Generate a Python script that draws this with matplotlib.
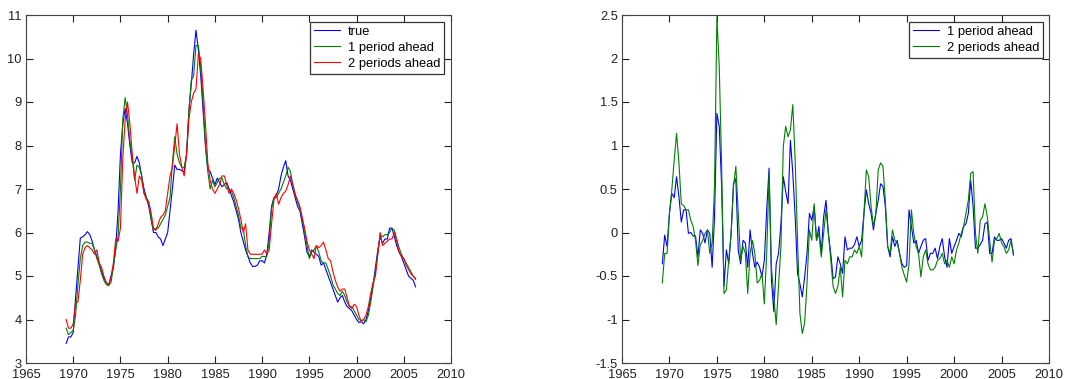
import numpy as np
import matplotlib
matplotlib.use("Agg")
import matplotlib.pyplot as plt
from matplotlib.ticker import FormatStrFormatter

plt.rcParams['font.family'] = ['Liberation Sans', 'DejaVu Sans']
plt.rcParams['font.size'] = 9.3

# quarterly values, first point 1969 Q2
true_rate = [
    3.45, 3.6, 3.6,
    3.7, 4.5, 5.2, 5.87,
    5.9, 5.95, 6.02, 5.95,
    5.8, 5.6, 5.45, 5.3,
    5.1, 4.95, 4.85, 4.78,
    5.0, 5.2, 5.65, 6.5,
    7.8, 8.5, 8.85, 8.5,
    8.0, 7.6, 7.6, 7.75,
    7.6, 7.3, 7.0, 6.8,
    6.6, 6.3, 6.0, 6.0,
    5.9, 5.85, 5.7, 5.85,
    6.0, 6.5, 7.0, 7.55,
    7.45, 7.45, 7.42, 7.4,
    7.8, 8.8, 9.4, 10.1,
    10.65, 10.2, 9.6, 8.8,
    8.0, 7.45, 7.4, 7.25,
    7.1, 7.25, 7.15, 7.05,
    7.1, 7.15, 7.0, 6.85,
    6.7, 6.5, 6.3, 6.0,
    5.8, 5.6, 5.45, 5.3,
    5.22, 5.22, 5.25, 5.35,
    5.35, 5.3, 5.5, 6.0,
    6.6, 6.8, 6.85, 7.0,
    7.3, 7.5, 7.65, 7.3,
    7.2, 7.0, 6.8, 6.6,
    6.5, 6.2, 5.9, 5.55,
    5.45, 5.6, 5.55, 5.5,
    5.45, 5.25, 5.3, 5.15,
    5.0, 4.85, 4.7, 4.55,
    4.4, 4.5, 4.55, 4.4,
    4.3, 4.25, 4.2, 4.1,
    4.0, 3.93, 3.95, 3.9,
    4.0, 4.2, 4.5, 4.8,
    5.2, 5.6, 5.9, 5.75,
    5.85, 5.85, 6.1, 6.1,
    5.9, 5.7, 5.55, 5.45,
    5.3, 5.15, 5.0, 4.95,
    4.9, 4.75,
]

ahead1 = [
    3.8, 3.65, 3.7,
    3.75, 4.1, 4.8, 5.4,
    5.7, 5.78, 5.78, 5.75,
    5.75, 5.6, 5.4, 5.25,
    5.05, 4.9, 4.8, 4.78,
    4.85, 5.2, 5.6, 5.9,
    7.0, 8.6, 9.1, 8.7,
    8.1, 7.7, 7.2, 7.55,
    7.5, 7.3, 6.9, 6.8,
    6.7, 6.3, 6.05, 6.1,
    6.1, 6.2, 6.3, 6.4,
    6.6, 6.8, 7.6, 8.2,
    7.8, 7.6, 7.5, 7.5,
    7.8, 8.8, 9.5, 9.6,
    10.3, 10.3, 9.8, 9.0,
    8.0, 7.4, 7.0, 7.2,
    7.05, 7.15, 7.25, 7.25,
    7.1, 7.0, 7.0, 6.95,
    6.8, 6.6, 6.4, 6.1,
    6.1, 5.7, 5.45, 5.4,
    5.4, 5.4, 5.4, 5.4,
    5.45, 5.45, 5.45, 5.8,
    6.55, 6.8, 6.8, 6.9,
    7.0, 7.15, 7.3, 7.5,
    7.4, 7.1, 6.9, 6.7,
    6.55, 6.3, 6.0, 5.7,
    5.4, 5.55, 5.6, 5.7,
    5.55, 5.35, 5.3, 5.3,
    5.15, 5.0, 4.8, 4.7,
    4.6, 4.55, 4.65, 4.55,
    4.4, 4.3, 4.3, 4.2,
    4.1, 4.0, 3.97, 4.0,
    3.95, 4.1, 4.4, 4.75,
    5.1, 5.5, 5.95, 5.9,
    5.95, 5.95, 6.0, 6.1,
    6.05, 5.85, 5.65, 5.5,
    5.4, 5.3, 5.2, 5.1,
    5.0, 4.95,
]

ahead2 = [
    4.0, 3.8, 3.8,
    3.9, 4.4, 4.4, 4.9,
    5.5, 5.65, 5.7, 5.65,
    5.6, 5.5, 5.6, 5.3,
    5.2, 5.0, 4.85, 4.8,
    4.95, 5.3, 5.85, 5.8,
    6.1, 7.7, 8.6, 9.0,
    8.5, 7.8, 7.3, 6.9,
    7.3, 7.2, 6.9, 6.75,
    6.7, 6.45, 6.1, 6.05,
    6.2, 6.35, 6.4, 6.5,
    6.9, 7.3, 7.5, 8.0,
    8.5, 7.8, 7.5, 7.3,
    7.8, 8.6, 9.0, 9.2,
    9.3, 10.1, 10.0, 9.3,
    8.5, 7.6, 7.2, 7.0,
    6.9, 7.0, 7.1, 7.3,
    7.3, 7.1, 6.9, 7.0,
    6.9, 6.75, 6.55, 6.3,
    6.0, 6.2, 5.6, 5.5,
    5.5, 5.5, 5.5, 5.5,
    5.5, 5.6, 5.5, 5.6,
    6.2, 6.75, 6.9, 6.65,
    6.8, 6.9, 6.95, 7.1,
    7.3, 7.1, 6.85, 6.75,
    6.6, 6.35, 6.1, 5.8,
    5.6, 5.5, 5.4, 5.7,
    5.65, 5.7, 5.78, 5.6,
    5.4, 5.35, 5.1, 4.9,
    4.75, 4.65, 4.7, 4.7,
    4.5, 4.3, 4.25, 4.35,
    4.3, 4.1, 3.95, 4.0,
    4.1, 4.3, 4.6, 4.85,
    5.0, 5.5, 6.0, 5.7,
    5.75, 5.8, 5.85, 5.85,
    6.0, 5.8, 5.55, 5.45,
    5.4, 5.25, 5.15, 5.05,
    5.0, 4.92,
]

# forecast errors
err1 = [
    -0.36, -0.03, -0.16,
    0.22, 0.45, 0.4, 0.64,
    0.41, 0.12, 0.26, 0.26,
    -0.01, 0.0, -0.04, -0.04,
    -0.28, 0.03, -0.01, -0.12,
    0.03, -0.01, -0.4, 0.18,
    1.37, 1.22, 0.53, -0.62,
    -0.2, -0.36, -0.01, 0.56,
    0.62, -0.2, -0.36, -0.09,
    -0.12, -0.4, 0.03, -0.24,
    -0.4, -0.34, -0.4, -0.51,
    -0.32, 0.26, 0.74, -0.55,
    -0.91, -0.36, -0.24, 0.1,
    0.64, 0.47, 0.33, 1.06,
    0.68, 0.18, -0.47, -0.59,
    -0.74, -0.51, -0.24, 0.22,
    0.14, 0.3, -0.09, 0.07,
    -0.24, 0.18, 0.37, -0.01,
    -0.24, -0.53, -0.51, -0.28,
    -0.36, -0.47, -0.05, -0.2,
    -0.18, -0.18, -0.14, -0.05,
    -0.16, -0.09, 0.22, 0.49,
    0.33, 0.22, 0.03, 0.22,
    0.37, 0.56, 0.53, 0.3,
    -0.16, -0.28, -0.05, -0.16,
    -0.09, -0.24, -0.36, -0.4,
    -0.38, 0.26, 0.07, -0.12,
    -0.09, -0.24, -0.16, -0.09,
    -0.07, -0.32, -0.24, -0.24,
    -0.18, -0.3, -0.16, -0.07,
    -0.28, -0.4, -0.07, -0.24,
    -0.16, -0.09, -0.01, -0.05,
    0.07, 0.1, 0.22, 0.6,
    0.3, -0.18, -0.18, -0.14,
    -0.09, 0.1, 0.12, -0.24,
    -0.24, -0.05, -0.09, -0.09,
    -0.07, -0.12, -0.18, -0.09,
    -0.07, -0.26,
]

err2 = [
    -0.58, -0.24, -0.24,
    0.22, 0.49, 0.83, 1.14,
    0.8, 0.33, 0.31, 0.26,
    0.26, 0.14, 0.07, -0.09,
    -0.38, -0.14, -0.09, -0.01,
    0.03, -0.24, -0.12, 0.53,
    2.48, 1.9, 0.76, -0.7,
    -0.66, -0.32, -0.01, 0.53,
    0.76, 0.22, -0.32, -0.16,
    -0.24, -0.7, -0.24, -0.09,
    -0.24, -0.58, -0.55, -0.47,
    -0.82, -0.24, 0.68, -0.4,
    -0.74, -1.06, -0.62, -0.16,
    0.99, 1.22, 1.1, 1.18,
    1.47, 0.83, -0.09, -0.93,
    -1.16, -1.04, -0.58, 0.03,
    -0.09, 0.33, -0.09, -0.01,
    -0.28, -0.01, 0.26, -0.01,
    -0.32, -0.62, -0.7, -0.62,
    -0.4, -0.74, -0.32, -0.36,
    -0.28, -0.28, -0.2, -0.24,
    -0.16, -0.28, 0.22, 0.72,
    0.64, 0.3, 0.07, 0.22,
    0.72, 0.8, 0.76, 0.37,
    -0.16, -0.24, 0.03, -0.09,
    -0.12, -0.24, -0.4, -0.49,
    -0.57, -0.36, 0.26, -0.01,
    -0.16, -0.24, -0.51, -0.28,
    -0.2, -0.36, -0.43, -0.43,
    -0.4, -0.32, -0.3, -0.24,
    -0.36, -0.32, -0.4, -0.28,
    -0.36, -0.2, -0.12, -0.01,
    0.07, 0.22, 0.37, 0.68,
    0.7, -0.01, -0.24, 0.14,
    0.18, 0.33, 0.18, -0.09,
    -0.34, -0.09, -0.07, -0.01,
    -0.12, -0.16, -0.24, -0.2,
    -0.09, -0.24,
]

t = 1969.25 + 0.25 * np.arange(len(true_rate))

blue = (0, 0, 1)
green = (0, 0.5, 0)
red = (1, 0, 0)
W, H = 1077, 379


def axesSetup(fig, rect, yLimit, yTicks):
  ax = fig.add_axes([rect[0] / W, rect[1] / H, rect[2] / W, rect[3] / H])
  ax.set_xlim(1965, 2010)
  ax.set_xticks(np.arange(1965, 2011, 5))
  ax.set_ylim(yLimit)
  ax.set_yticks(yTicks)
  ax.yaxis.set_major_formatter(FormatStrFormatter('%g'))
  ax.tick_params(direction='in', top=True, right=True, length=5,
                 width=0.8, pad=3, labelsize=9.3, colors='#222222')
  ax.tick_params(axis='x', pad=4)
  for s in ax.spines.values():
    s.set_linewidth(0.8)
    s.set_color('#444444')
  return ax


def legendSetup(ax, gapx, gapy, wpx, hpx):
  leg = ax.legend(loc='upper right', bbox_to_anchor=(1 - gapx / wpx, 1 - gapy / hpx),
                  borderaxespad=0, fancybox=False, framealpha=1, edgecolor='#333333',
                  handlelength=2.0, handletextpad=0.6, labelspacing=0.3,
                  borderpad=0.3, fontsize=9.3)
  leg.get_frame().set_linewidth(0.9)
  return leg


fig = plt.figure(figsize=(W / 100, H / 100), dpi=100)

ax0 = axesSetup(fig, (26, 16, 425, 348), (3, 11), np.arange(3, 12, 1))
ax0.plot(t, true_rate, color=blue, lw=0.8, label='true')
ax0.plot(t, ahead1, color=green, lw=0.8, label='1 period ahead')
ax0.plot(t, ahead2, color=red, lw=0.8, label='2 periods ahead')
legendSetup(ax0, 7, 7, 425, 348)

ax1 = axesSetup(fig, (622, 16, 427, 348), (-1.5, 2.5), np.arange(-1.5, 2.51, 0.5))
ax1.plot(t, err1, color=blue, lw=0.8, label='1 period ahead')
ax1.plot(t, err2, color=green, lw=0.8, label='2 periods ahead')
legendSetup(ax1, 6, 7, 427, 348)

fig.savefig('out.png', dpi=100)
